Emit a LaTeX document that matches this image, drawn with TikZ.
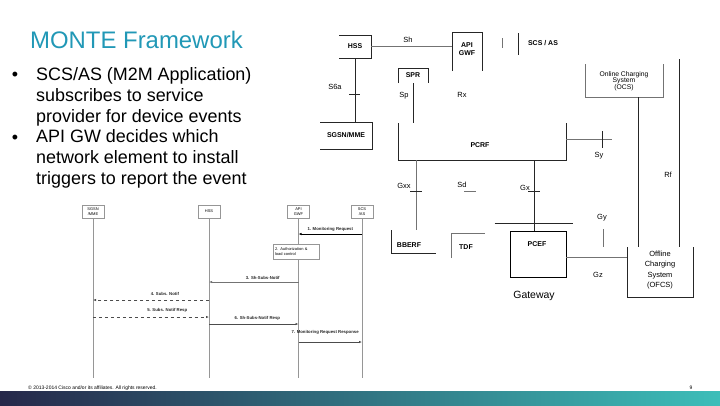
\documentclass[tikz,border=0pt]{standalone}
\usepackage{fontspec}
\setmainfont{Liberation Sans}
\usetikzlibrary{arrows.meta,positioning,calc}
\definecolor{montetitle}{RGB}{33,152,182}
\definecolor{barleft}{RGB}{38,40,74}
\definecolor{barright}{RGB}{60,190,185}
\definecolor{seqgray}{RGB}{150,150,150}

\begin{document}
\begin{tikzpicture}[
    x=1bp, y=-1bp,
    wire/.style={line width=0.8bp, black!85},
    thinwire/.style={line width=0.7bp, black!55},
    frame/.style={inner sep=0, outer sep=0},
    arch/.style={font=\fontsize{7}{8}\selectfont\bfseries, inner sep=0, align=center},
    iface/.style={font=\fontsize{7.5}{8}\selectfont, inner sep=0},
    head/.style={draw=seqgray, line width=0.5bp, minimum width=22bp, minimum height=13bp,
        inner sep=0, align=center, font=\fontsize{4}{4.5}\selectfont},
    life/.style={seqgray, line width=0.8bp},
    msg/.style={line width=0.6bp, black!70, -{Latex[length=3bp,width=2.4bp]}},
    seqlbl/.style={font=\fontsize{4.3}{5}\selectfont\bfseries, inner sep=0, text=black!85},
    bullet/.style={font=\fontsize{18}{21.2}\selectfont, inner sep=0, align=left, anchor=north west},
]
\useasboundingbox (0,0) rectangle (720,405);
\shade[left color=barleft, right color=barright] (0,391) rectangle (720,405);

\node[anchor=base west, inner sep=0, font=\fontsize{24}{24}\selectfont, text=montetitle] (title) at (30,48) {MONTE Framework};
\node[anchor=base, inner sep=0, font=\fontsize{18}{18}\selectfont] (dot1) at (15,80.7) {•};
\node[bullet] (point1) at (36,67) {SCS/AS (M2M Application)\\subscribes to service\\provider for device events};
\node[anchor=base, inner sep=0, font=\fontsize{18}{18}\selectfont] (dot2) at (15,143) {•};
\node[bullet] (point2) at (36,129.3) {API GW decides which\\network element to install\\triggers to report the event};

% architecture
\node[frame, arch, minimum width=32bp, minimum height=23bp] (hss) at (355,46.5) {HSS};
\draw[wire] (hss.north west) -- (hss.north east) -- (hss.south east) -- (hss.south west);
\node[frame, minimum width=30bp, minimum height=39bp] (api) at (467,51.5) {};
\node[arch] (apitxt) at (467,49) {API\\GWF};
\draw[wire] (api.south west) |- (api.north east) -- (api.south east);
\draw[thinwire] (hss.east) -- (hss.east -| api.west);
\node[iface] (sh) at (408,40) {Sh};
\node[arch] (scs) at (543,43) {SCS / AS};
\draw[thinwire] ($(scs.west)+(-26,-5)$) -- ++(0,10);
\draw[wire] ($(scs.west)+(-9,-10)$) -- ++(0,22);

\node[frame, arch, minimum width=30bp, minimum height=15bp] (spr) at (413,75.5) {SPR};
\draw[wire] (spr.south west) |- (spr.north east) -- (spr.south east);
\node[frame, minimum width=168bp, minimum height=37bp] (pcrf) at (482,141.5) {};
\node[arch] (pcrftxt) at (480,145) {PCRF};
\draw[wire] (pcrf.north west) |- (pcrf.south east) -- (pcrf.north east);
\draw[wire] (spr.south) -- (spr.south |- pcrf.north);
\node[iface] (sp) at (404,96) {Sp};
\node[iface] (rx) at (462,95) {Rx};

\node[frame, arch, minimum width=52bp, minimum height=27bp] (mme) at (346,135.5) {SGSN/MME};
\draw[wire] (mme.north west) -- (mme.north east) -- (mme.south east) -- (mme.south west);
\draw[wire] (hss.south) -- (hss.south |- mme.north);
\coordinate (s6a) at (355,94);
\draw[wire] ($(s6a)+(-6,0)$) -- ++(11,0);
\node[iface] (s6atxt) at (335,87) {S6a};

\coordinate (sy) at (602,139);
\draw[thinwire] (pcrf.east |- sy) -- ++(46,0);
\draw[wire] ($(sy)+(0,-8)$) -- ++(0,17);
\node[iface] (sytxt) at (599,156) {Sy};

\node[frame, minimum width=78bp, minimum height=33bp] (ocs) at (624,80.5) {};
\node[font=\fontsize{6.8}{6.5}\selectfont, align=center, inner sep=0] (ocstxt) at (624,81) {Online Charging\\System\\(OCS)};
\draw[thinwire] (ocs.north west) |- (ocs.south east) -- (ocs.north east);
\node[frame, minimum width=66bp, minimum height=50bp] (ofcs) at (660,272) {};
\node[font=\fontsize{7.5}{10.3}\selectfont, align=center, inner sep=0] (ofcstxt) at (660,270) {Offline\\Charging\\System\\(OFCS)};
\draw[wire] (ofcs.north west) |- (ofcs.south east) -- (ofcs.north east);
\draw[wire] ([xshift=14bp]ocs.south) -- ([xshift=14bp]ocs.south |- ofcs.north);
\coordinate (rftop) at (679,59);
\draw[wire] (rftop) -- (rftop |- ofcs.north);
\node[iface] (rf) at (668,175) {Rf};

\coordinate (gxx) at (416,191);
\node[frame, minimum width=45bp, minimum height=23bp] (bberf) at (413.5,241.5) {};
\node[arch] (bberftxt) at (409,245) {BBERF};
\draw[wire] (bberf.north west) |- (bberf.south east);
\draw[thinwire] (pcrf.south -| gxx) -- (gxx |- bberf.north);
\draw[wire] ($(gxx)+(-6,0)$) -- ++(12,0);
\node[iface] (gxxtxt) at (404,186) {Gxx};

\coordinate (sd) at (470,191);
\draw[thinwire] ($(sd)+(-6,0)$) -- ++(12,0);
\node[iface] (sdtxt) at (462,185) {Sd};
\node[frame, minimum width=34bp, minimum height=25bp] (tdf) at (468,245.5) {};
\node[arch] (tdftxt) at (466,247) {TDF};
\draw[thinwire] (tdf.south west) |- (tdf.north east);

\coordinate (gx) at (534,191);
\node[draw, line width=0.8bp, minimum width=56bp, minimum height=46bp, inner sep=0] (pcef) at (538,254) {};
\node[arch] (pceftxt) at (537,244) {PCEF};
\draw[wire] (pcrf.south -| gx) -- (gx |- pcef.north);
\draw[wire] ($(gx)+(-6,0)$) -- ++(12,0);
\node[iface] (gxtxt) at (525,188) {Gx};
\draw[wire] ($(pcef.north west)+(-15,-7)$) -- ++(78,0);
\node[font=\fontsize{10.5}{12}\selectfont, inner sep=0] (gw) at (534,296) {Gateway};

\coordinate (gz) at (600,257);
\draw[thinwire] (pcef.east |- gz) -- (ofcs.west |- gz);
\node[iface] (gztxt) at (598,275) {Gz};
\coordinate (gy) at (603,229);
\draw[thinwire] (gy) -- ++(0,18);
\node[iface] (gytxt) at (602,218) {Gy};

% sequence
\node[head] (sgsnH) at (93,211.5) {SGSN\\/MME};
\node[head] (hssH) at (209,211.5) {HSS};
\node[head] (apiH) at (298.5,211.5) {API\\GWF};
\node[head] (scsH) at (362,211.5) {SCS\\/AS};
\coordinate (seqend) at (0,378);
\foreach \h in {sgsnH,hssH,apiH,scsH}
    \draw[life] (\h) -- (\h |- seqend);

\coordinate (m1) at (0,234);
\coordinate (m3) at (0,282);
\coordinate (m4) at (0,300);
\coordinate (m5) at (0,317);
\coordinate (m6) at (0,324);
\coordinate (m7) at (0,342);
\draw[msg, black, line width=1bp] (scsH |- m1) -- node[seqlbl, above=2bp] (l1) {1. Monitoring Request} (apiH |- m1);
\node[draw=seqgray, line width=0.4bp, fill=white, minimum width=46bp, minimum height=15bp, text width=42bp,
    align=left, font=\fontsize{4}{5}\selectfont, inner sep=1bp] (auth) at (296,251.5) {2. Authorization \&\\load control};
\draw[msg, black!55] (apiH |- m3) -- node[seqlbl, above=2bp, pos=0.4] (l3) {3. Sh-Subs-Notif} (hssH |- m3);
\draw[msg, dashed] (hssH |- m4) -- node[seqlbl, above=4bp, pos=0.38] (l4) {4. Subs. Notif} (sgsnH |- m4);
\draw[msg, dashed] (sgsnH |- m5) -- node[seqlbl, above=4bp, pos=0.64] (l5) {5. Subs. Notif Resp} (hssH |- m5);
\draw[msg] (hssH |- m6) -- node[seqlbl, above=3bp, pos=0.54] (l6) {6. Sh-Subs-Notif Resp} (apiH |- m6);
\draw[msg] (apiH |- m7) -- node[seqlbl, above=7bp, pos=0.42] (l7) {7. Monitoring Request Response} (scsH |- m7);

\node[anchor=west, inner sep=0, font=\fontsize{5}{5}\selectfont] (copy) at (28,388) {© 2013-2014 Cisco and/or its affiliates. All rights reserved.};
\node[inner sep=0, font=\fontsize{5}{5}\selectfont] (page) at (691,388) {9};
\end{tikzpicture}
\end{document}
